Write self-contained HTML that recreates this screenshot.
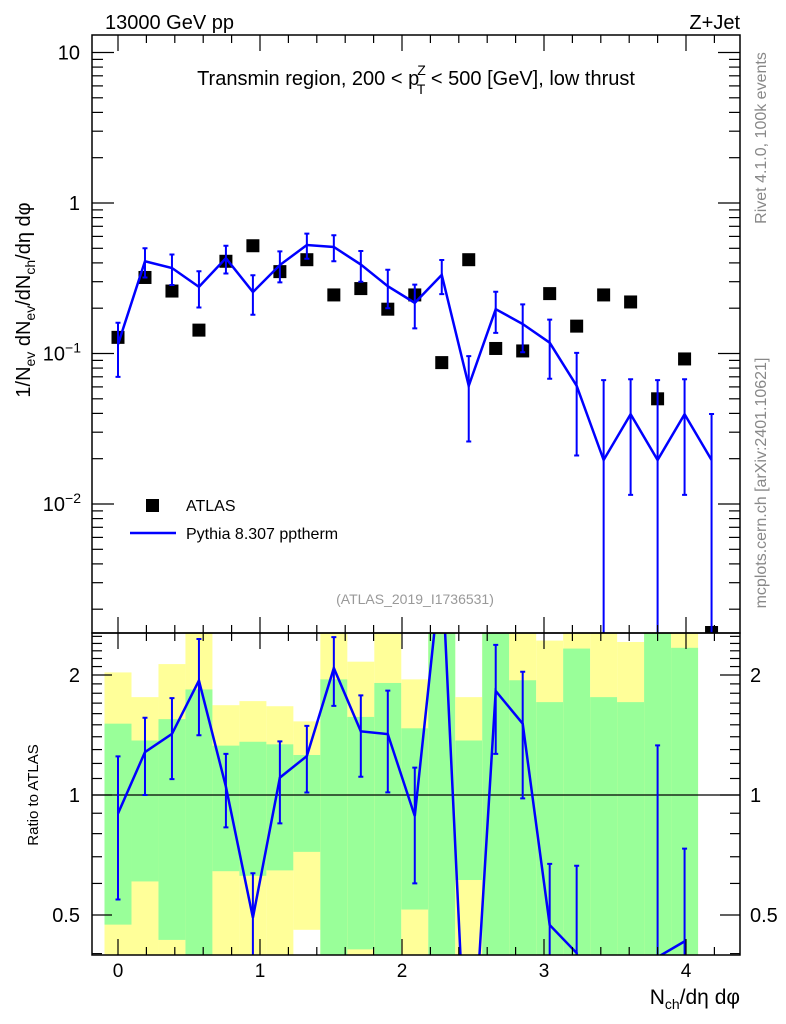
<!DOCTYPE html>
<html><head><meta charset="utf-8">
<style>
html,body{margin:0;background:#fff;overflow:hidden;width:786px;height:1024px;}
svg{display:block;font-family:"Liberation Sans",sans-serif;}
</style></head>
<body>
<svg id="c" width="786" height="1024" viewBox="0 0 786 1024" xmlns="http://www.w3.org/2000/svg">
<text x="105" y="29" font-size="20">13000 GeV pp</text>
<text x="740" y="29" font-size="20" text-anchor="end">Z+Jet</text>
<text x="416" y="85" font-size="20" text-anchor="middle">Transmin region, 200 &lt; p<tspan font-size="14" dy="-10" dx="-2">Z</tspan><tspan font-size="14" dy="19" dx="-9">T</tspan><tspan dy="-9"> &lt; 500 [GeV], low thrust</tspan></text>
<text transform="translate(766,138) rotate(-90)" font-size="16" fill="#888" text-anchor="middle">Rivet 4.1.0,  100k events</text>
<text transform="translate(766,483) rotate(-90)" font-size="16" fill="#888" text-anchor="middle">mcplots.cern.ch [arXiv:2401.10621]</text>
<text transform="translate(30,300) rotate(-90)" font-size="20" text-anchor="middle">1/N<tspan font-size="14" dy="5">ev</tspan><tspan dy="-5"> dN</tspan><tspan font-size="14" dy="5">ev</tspan><tspan dy="-5">/dN</tspan><tspan font-size="14" dy="5">ch</tspan><tspan dy="-5">/dη dφ</tspan></text>
<text transform="translate(38,795) rotate(-90)" font-size="15" text-anchor="middle">Ratio to ATLAS</text>
<text x="740" y="1004" font-size="21" text-anchor="end">N<tspan font-size="14" dy="5">ch</tspan><tspan dy="-5">/dη dφ</tspan></text>
<text x="415" y="604" font-size="14" fill="#999" text-anchor="middle">(ATLAS_2019_I1736531)</text>
<g>
<rect x="146" y="499" width="13" height="13" fill="#000"/>
<text x="186" y="511" font-size="16">ATLAS</text>
<line x1="130" y1="533" x2="176" y2="533" stroke="#0000ff" stroke-width="2.5"/>
<text x="186" y="539" font-size="16">Pythia 8.307 pptherm</text>
</g>
<g id="g"></g>
</svg>
<script>
const xCenters = [0,0.19,0.38,0.57,0.76,0.95,1.14,1.33,1.52,1.71,1.9,2.09,2.28,2.47,2.66,2.85,3.04,3.23,3.42,3.61,3.8,3.99,4.18];
const atlasValues = [0.128,0.32,0.26,0.143,0.41,0.52,0.35,0.42,0.245,0.27,0.197,0.245,0.087,0.42,0.108,0.104,0.25,0.152,0.245,0.22,0.05,0.092,0.0014];
const mcValues = [0.115,0.41,0.37,0.277,0.43,0.256,0.387,0.526,0.51,0.39,0.28,0.217,0.333,0.061,0.197,0.157,0.118,0.061,0.0196,0.0395,0.0196,0.0395,0.0196];
const mcErrors = [0.045,0.09,0.085,0.075,0.09,0.075,0.09,0.1,0.1,0.09,0.08,0.07,0.085,0.035,0.06,0.055,0.05,0.04,0.047,0.028,0.047,0.028,0.02];
const yellowHi = [2.03,1.76,2.13,5,1.68,1.72,1.67,1.53,5,2.16,5,1.95,5,1.76,5,5,2.44,5,5,2.42,5,5];
const greenHi = [1.51,1.37,1.55,1.84,1.33,1.36,1.34,1.26,1.95,1.57,1.91,1.47,5,1.37,5,1.94,1.71,2.33,1.76,1.71,5,2.34];
const greenLo = [0.473,0.607,0.433,0.1,0.644,0.627,0.647,0.72,0.1,0.41,0.1,0.516,0.1,0.612,0.1,0.1,0.1,0.1,0.1,0.1,0.1,0.1];
const yellowLo = [0.1,0.1,0.1,0.1,0.1,0.1,0.1,0.459,0.1,0.1,0.1,0.1,0.1,0.1,0.1,0.1,0.1,0.1,0.1,0.1,0.1,0.1];
const xTicks = [0,1,2,3,4];
const ratioTicks = [2,1,0.5];

const L=92,R=740,T=35,MB=633,RB=955;
const X=v=>118+v*142;
const Y=v=>203-Math.log10(v)*150.5;
const RY=v=>795-Math.log2(v)*120;
const ns='http://www.w3.org/2000/svg';
const g=document.getElementById('g');
function mk(tag,attrs,parent){const e=document.createElementNS(ns,tag);for(const k in attrs)e.setAttribute(k,attrs[k]);(parent||g).appendChild(e);return e;}

const defs=mk('defs',{});
const c1=mk('clipPath',{id:'cm'},defs);mk('rect',{x:L,y:T,width:R-L,height:MB-T},c1);
const c2=mk('clipPath',{id:'cr'},defs);mk('rect',{x:L,y:MB,width:R-L,height:RB-MB},c2);

const bandG=mk('g',{'clip-path':'url(#cr)'});


for(let i=0;i<yellowHi.length;i++){
  const x0=X(xCenters[i]-0.095), x1=X(xCenters[i]+0.095);
  const yb=mk('rect',{x:x0,y:RY(yellowHi[i]),width:x1-x0,height:RY(yellowLo[i])-RY(yellowHi[i]),fill:'#ffff99'},bandG);
  
  
  const gb=mk('rect',{x:x0,y:RY(greenHi[i]),width:x1-x0,height:RY(greenLo[i])-RY(greenHi[i]),fill:'#99ff99'},bandG);
  
  
}
mk('line',{x1:L,x2:R,y1:RY(1),y2:RY(1),stroke:'#000','stroke-width':1.2});

const mainG=mk('g',{'clip-path':'url(#cm)'});
atlasValues.forEach((v,i)=>{
  const r=mk('rect',{x:X(xCenters[i])-6.5,y:Y(v)-6.5,width:13,height:13,fill:'#000'},mainG);
  
  
});
let pts=mcValues.map((v,i)=>X(xCenters[i])+','+Y(v)).join(' ');
const ml=mk('polyline',{points:pts,fill:'none',stroke:'#0000ff','stroke-width':2.5},mainG);


mcValues.forEach((v,i)=>{
  const x=X(xCenters[i]);const lo=v-mcErrors[i];const y1=lo>0?Y(lo):MB+10;const y0=Y(v+mcErrors[i]);
  const e=mk('path',{d:`M${x},${y0}V${y1}M${x-2.5},${y0}H${x+2.5}M${x-2.5},${y1}H${x+2.5}`,stroke:'#0000ff','stroke-width':2,fill:'none'},mainG);
  
  
});

const ratioG=mk('g',{'clip-path':'url(#cr)'});
const ratios=mcValues.map((v,i)=>v/atlasValues[i]).slice(0,atlasValues.length-1);
const rl=mk('polyline',{points:ratios.map((r,i)=>X(xCenters[i])+','+RY(r)).join(' '),fill:'none',stroke:'#0000ff','stroke-width':2.5},ratioG);


ratios.forEach((r,i)=>{
  const x=X(xCenters[i]);const e=mcErrors[i]/atlasValues[i];
  const lo=r-e;const y1=lo>0?RY(lo):RB+10;const y0=RY(r+e);
  const p=mk('path',{d:`M${x},${y0}V${y1}M${x-2.5},${y0}H${x+2.5}M${x-2.5},${y1}H${x+2.5}`,stroke:'#0000ff','stroke-width':2,fill:'none'},ratioG);
  
  
});

mk('rect',{x:L,y:T,width:R-L,height:MB-T,fill:'none',stroke:'#000','stroke-width':1.5});
mk('rect',{x:L,y:MB,width:R-L,height:RB-MB,fill:'none',stroke:'#000','stroke-width':1.5});

for(let k=-1;k<=22;k++){
  const v=k*0.2;const x=X(v);if(x<L||x>R)continue;
  const maj=k%5===0;const len=maj?16:8;
  [[T,1],[MB,-1],[MB,1],[RB,-1]].forEach(([y,d])=>mk('line',{x1:x,x2:x,y1:y,y2:y+d*len,stroke:'#000','stroke-width':1.2}));
}
xTicks.forEach(v=>{
  const t=mk('text',{x:X(v),y:977,'font-size':19,'text-anchor':'middle'});t.textContent=v;
  
  
});
for(let d=-3;d<=1;d++){
  for(let m=1;m<10;m++){
    const v=m*Math.pow(10,d);const y=Y(v);if(y<T||y>MB)continue;
    const len=m===1?22:11;
    mk('line',{x1:L,x2:L+len,y1:y,y2:y,stroke:'#000','stroke-width':1.2});
    mk('line',{x1:R,x2:R-len,y1:y,y2:y,stroke:'#000','stroke-width':1.2});
  }
}
[[10,'10'],[1,'1'],[0.1,'10','−1'],[0.01,'10','−2']].forEach(a=>{
  const t=mk('text',{x:80,y:Y(a[0])+7,'font-size':20,'text-anchor':'end'});
  t.textContent=a[1];
  if(a[2]){const s=mk('tspan',{'font-size':14,dy:-8},t);s.textContent=a[2];t.setAttribute('x',81);}
  
  
});
[0.4,0.5,0.6,0.7,0.8,0.9,1,1.1,1.2,1.3,1.4,1.5,1.6,1.7,1.8,1.9,2,2.1,2.2,2.3,2.4,2.5].forEach(v=>{
  const y=RY(v);if(y<MB||y>RB)return;
  const maj=[0.5,1,2].some(m=>Math.abs(m-v)<1e-6);const len=maj?20:10;
  mk('line',{x1:L,x2:L+len,y1:y,y2:y,stroke:'#000','stroke-width':1.2});
  mk('line',{x1:R,x2:R-len,y1:y,y2:y,stroke:'#000','stroke-width':1.2});
});
ratioTicks.forEach(v=>{
  const t=mk('text',{x:80,y:RY(v)+7,'font-size':20,'text-anchor':'end'});t.textContent=v;
  
  
  const t2=mk('text',{x:750,y:RY(v)+7,'font-size':20});t2.textContent=v;
  
  
});
</script>
</body></html>
